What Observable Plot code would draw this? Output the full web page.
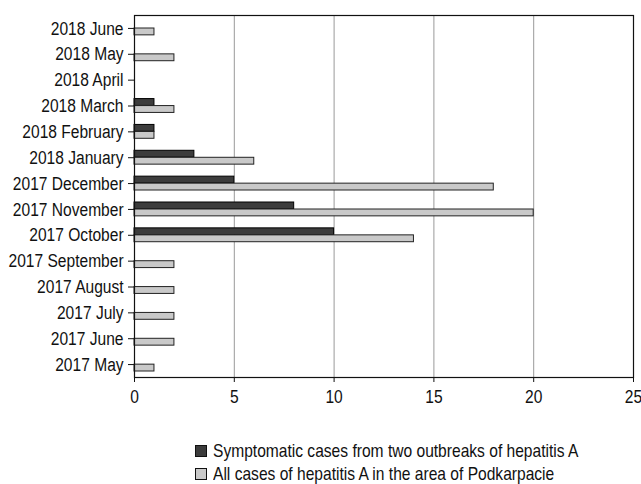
<!DOCTYPE html>
<html>
<head>
<meta charset="utf-8">
<script src="https://cdn.jsdelivr.net/npm/d3@7"></script>
<script src="https://cdn.jsdelivr.net/npm/@observablehq/plot@0.6"></script>
<style>
  html, body { margin: 0; padding: 0; background: #fff; }
  #wrap { position: relative; width: 641px; height: 484px; font-family: "Liberation Sans", Arial, sans-serif; }
  .legend { position: absolute; left: 195px; top: 439px; font-size: 19px; color: #111; line-height: 23px; }
  .item { display: flex; align-items: center; white-space: nowrap; height: 23px; }
  .sw { width: 10px; height: 10px; border: 1px solid #111; margin-right: 6px; flex: none; }
  .lbl { display: inline-block; transform: scaleX(0.82); transform-origin: 0 50%; }
</style>
</head>
<body>
<div id="wrap"></div>
<script>
const months = [
  "2018 June", "2018 May", "2018 April", "2018 March", "2018 February", "2018 January",
  "2017 December", "2017 November", "2017 October", "2017 September", "2017 August",
  "2017 July", "2017 June", "2017 May"
];
const symptomatic = [0, 0, 0, 1, 1, 3, 5, 8, 10, 0, 0, 0, 0, 0];
const allCases    = [1, 2, 0, 2, 1, 6, 18, 20, 14, 2, 2, 2, 2, 1];
const seriesNames = [
  "Symptomatic cases from two outbreaks of hepatitis A",
  "All cases of hepatitis A in the area of Podkarpacie"
];
const seriesColors = ["#3c3c3c", "#c9c9c9"];
const xTicks = [0, 5, 10, 15, 20, 25];

const darkData = months.map((m, i) => ({month: m, value: symptomatic[i]})).filter(d => d.value > 0);
const lightData = months.map((m, i) => ({month: m, value: allCases[i]})).filter(d => d.value > 0);

const font = '"Liberation Sans", Arial, sans-serif';
const narrow = 0.82;

const chart = Plot.plot({
  width: 641,
  height: 420,
  marginLeft: 134,
  marginRight: 8,
  marginTop: 15,
  marginBottom: 43,
  style: {fontFamily: font, fontSize: "19px", color: "#111", background: "#fff"},
  x: {domain: [0, 25], ticks: xTicks, tickSize: 5, tickPadding: 7, label: null},
  y: {domain: months, padding: 0, round: false, tickSize: 6, tickPadding: 5, label: null},
  marks: [
    Plot.gridX(xTicks.slice(1, -1), {stroke: "#999", strokeOpacity: 1}),
    Plot.barX(darkData, {x: "value", y: "month", fill: seriesColors[0], stroke: "#000", strokeWidth: 1, insetTop: 6, insetBottom: 13}),
    Plot.barX(lightData, {x: "value", y: "month", fill: seriesColors[1], stroke: "#222", strokeWidth: 1, insetTop: 13, insetBottom: 6}),
    Plot.frame({stroke: "#111", strokeWidth: 1.2})
  ]
});

const wrap = document.getElementById("wrap");
wrap.appendChild(chart);

// condense chart texts horizontally around their anchor (the reference uses a condensed typeface)
chart.querySelectorAll("text").forEach(t => {
  const bb = t.getBBox();
  const anchor = getComputedStyle(t).textAnchor;
  const ax = anchor === "end" ? bb.x + bb.width : anchor === "middle" ? bb.x + bb.width / 2 : bb.x;
  const tr = t.getAttribute("transform") || "";
  t.setAttribute("transform", `${tr} translate(${ax},0) scale(${narrow},1) translate(${-ax},0)`);
});

const legend = document.createElement("div");
legend.className = "legend";
seriesNames.forEach((name, i) => {
  const item = document.createElement("div");
  item.className = "item";
  const sw = document.createElement("span");
  sw.className = "sw";
  sw.style.background = seriesColors[i];
  const t = document.createElement("span");
  t.className = "lbl";
  t.textContent = name;
  item.appendChild(sw);
  item.appendChild(t);
  legend.appendChild(item);
});
wrap.appendChild(legend);
</script>
</body>
</html>
